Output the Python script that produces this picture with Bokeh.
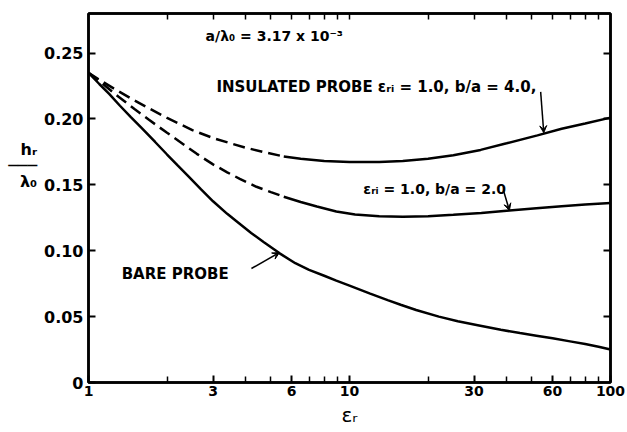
from bokeh.plotting import figure
from bokeh.models import (Range1d, LogAxis, LinearAxis, FixedTicker,
                          CustomJSTickFormatter, Label, Arrow, VeeHead)
from bokeh.embed import file_html
from bokeh.resources import INLINE

# ---- data ----
x_ticks = [1, 3, 6, 10, 30, 60, 100]
x_minor = [2, 4, 5, 7, 8, 9, 20, 40, 50, 70, 80, 90]
y_ticks = [0, 0.05, 0.10, 0.15, 0.20, 0.25]

bare_x = [1, 1.1, 1.2, 1.32, 1.45, 1.6, 1.8, 2, 2.2, 2.4, 2.7, 3, 3.4, 3.7, 4.2, 4.7, 5.4,
          6.2, 7, 8, 8.9, 10, 12, 14, 15.7, 18, 22, 26, 31, 38, 45, 52, 60, 70, 80, 90, 100]
bare_y = [0.235, 0.2265, 0.219, 0.210, 0.2015, 0.193, 0.1825, 0.173, 0.1645, 0.157, 0.1465,
          0.1375, 0.128, 0.1222, 0.1135, 0.1065, 0.098, 0.0905, 0.0855, 0.081, 0.0773, 0.0735,
          0.0675, 0.0625, 0.059, 0.055, 0.050, 0.0465, 0.0435, 0.040, 0.0375, 0.0355, 0.0335,
          0.0312, 0.0292, 0.0271, 0.025]

ins4_x = [1, 1.12, 1.26, 1.45, 1.7, 2, 2.5, 3, 3.5, 4, 4.7, 5.6, 6.5, 8, 10, 13, 16, 20, 25,
          31.8, 40, 52.5, 65, 80, 100]
ins4_y = [0.235, 0.2288, 0.2227, 0.2157, 0.2082, 0.2008, 0.1915, 0.1855, 0.1815, 0.1782,
          0.1748, 0.1715, 0.1697, 0.168, 0.1673, 0.1673, 0.168, 0.1697, 0.1725, 0.1765, 0.1815,
          0.1875, 0.1925, 0.1965, 0.201]

ins2_x = [1, 1.12, 1.3, 1.5, 1.7, 2, 2.3, 2.6, 3, 3.4, 3.8, 4.4, 5, 5.6, 6.5, 7.5, 8.9, 10.5,
          13, 16, 20, 25, 32, 41, 52, 65, 80, 100]
ins2_y = [0.235, 0.2275, 0.217, 0.2075, 0.1995, 0.1895, 0.181, 0.1735, 0.1655, 0.1595, 0.1545,
          0.1485, 0.1445, 0.141, 0.137, 0.1335, 0.1298, 0.1275, 0.1262, 0.1257, 0.1262, 0.1272,
          0.1287, 0.1305, 0.1322, 0.1338, 0.135, 0.1362]

dash_end = 5.6  # the insulated-probe curves are dashed up to here

FONT = "DejaVu Sans"

p = figure(width=627, height=432, x_axis_type="log",
           x_range=Range1d(1, 100), y_range=Range1d(0, 0.28),
           output_backend="svg", toolbar_location=None,
           min_border_left=88, min_border_right=17, min_border_top=13, min_border_bottom=50)
p.grid.visible = False
p.outline_line_color = "black"
p.outline_line_width = 2.5
p.background_fill_color = "white"
p.border_fill_color = "white"

# ---- axes ----
xb = p.below[0]
xb.ticker = FixedTicker(ticks=x_ticks, minor_ticks=x_minor)
xb.formatter = CustomJSTickFormatter(code="return String(tick)")
yl = p.left[0]
yl.ticker = FixedTicker(ticks=y_ticks)
yl.formatter = CustomJSTickFormatter(code="return tick < 1e-9 ? '0' : tick.toFixed(2)")

for ax in (xb, yl):
    ax.axis_line_width = 2.5
    ax.major_tick_in = 7
    ax.major_tick_out = 0
    ax.minor_tick_in = 6
    ax.minor_tick_out = 0
    ax.major_tick_line_width = 2
    ax.minor_tick_line_width = 1.5
    ax.major_label_text_font = FONT
    ax.major_label_text_font_style = "bold"
    ax.major_label_text_color = "black"
    ax.axis_label_text_font = FONT
    ax.axis_label_text_font_style = "normal"
    ax.axis_label_text_color = "black"
xb.major_label_text_font_size = "14px"
xb.major_label_standoff = 3
yl.major_label_text_font_size = "16px"
yl.major_label_standoff = 5
xb.axis_label = "εᵣ"
xb.axis_label_text_font_size = "20px"
xb.axis_label_standoff = 4

# stacked fraction h_r / λ_0; trailing blank lines lift it above the axis centre
yl.axis_label = "hᵣ\n───\nλ₀\n \n \n \n"
yl.axis_label_orientation = "horizontal"
yl.axis_label_text_font_size = "16px"
yl.axis_label_text_font_style = "bold"
yl.axis_label_text_line_height = 0.85
yl.axis_label_standoff = 4

blank = CustomJSTickFormatter(code="return ''")
top = LogAxis(ticker=FixedTicker(ticks=[], minor_ticks=x_minor + [3, 6, 10, 30, 60]),
              formatter=blank, axis_line_width=2.5, major_tick_in=0, major_tick_out=0,
              minor_tick_in=6, minor_tick_out=0, minor_tick_line_width=1.5,
              major_label_text_font_size="1px", major_label_standoff=0)
right = LinearAxis(ticker=FixedTicker(ticks=y_ticks[1:]), formatter=blank, axis_line_width=2.5,
                   major_tick_in=7, major_tick_out=0, minor_tick_in=0, minor_tick_out=0,
                   major_tick_line_width=2, major_label_text_font_size="1px",
                   major_label_standoff=0)
p.add_layout(top, "above")
p.add_layout(right, "right")

# ---- curves ----
p.line(bare_x, bare_y, line_color="black", line_width=2.5)

for xs, ys in ((ins4_x, ins4_y), (ins2_x, ins2_y)):
    dx = [x for x in xs if x <= dash_end]
    dy = ys[:len(dx)]
    sx = [x for x in xs if x >= dash_end]
    sy = ys[len(xs) - len(sx):]
    p.line(dx, dy, line_color="black", line_width=2.5, line_dash="12 6")
    p.line(sx, sy, line_color="black", line_width=2.5)

# ---- annotations ----
def lab(x, y, t, size="15px", align="left", style="bold"):
    p.add_layout(Label(x=x, y=y, text=t, text_font=FONT, text_font_size=size,
                       text_font_style=style, text_color="black",
                       text_align=align, text_baseline="middle"))

lab(2.81, 0.263, "a/λ₀ = 3.17 x 10⁻³", size="14px")
lab(3.09, 0.2245, "INSULATED  PROBE   εᵣᵢ = 1.0, b/a = 4.0,")
lab(11.3, 0.147, "εᵣᵢ = 1.0, b/a = 2.0", size="14px")
lab(1.34, 0.082, "BARE  PROBE")

def arrow(x0, y0, x1, y1):
    p.add_layout(Arrow(end=VeeHead(size=7, line_color="black", fill_color="black"),
                       x_start=x0, y_start=y0, x_end=x1, y_end=y1,
                       line_color="black", line_width=1.5))

arrow(4.21, 0.0865, 5.39, 0.0986)
arrow(38.9, 0.1457, 41.0, 0.1305)
arrow(54.0, 0.2205, 55.5, 0.1895)

open("out.html", "w").write(file_html(p, INLINE))
